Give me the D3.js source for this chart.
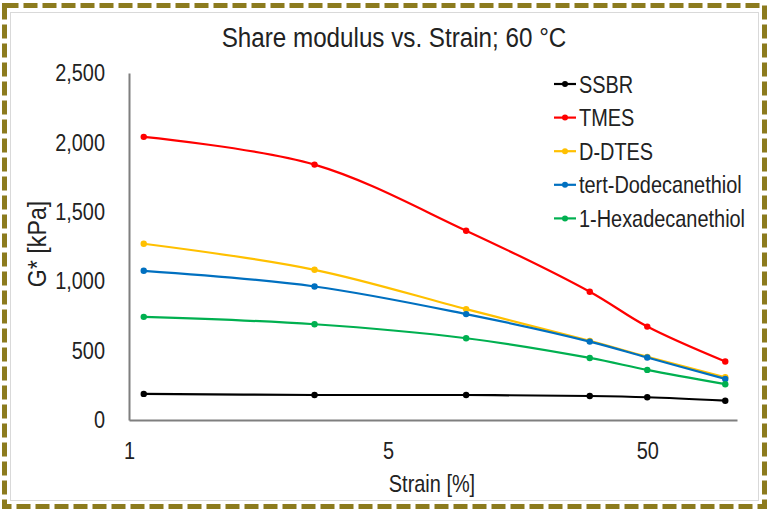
<!DOCTYPE html>
<html>
<head>
<meta charset="utf-8">
<script src="https://cdn.jsdelivr.net/npm/d3@7"></script>
<style>
  html, body { margin: 0; padding: 0; background: #fff; }
  text { font-family: "Liberation Sans", Arial, sans-serif; fill: #222; }
</style>
</head>
<body>
<svg id="chart" width="769" height="512"></svg>
<script>
// Strain sweep at 60 °C: complex shear modulus per compound
const strains = [0.57, 2.6, 10, 30, 50, 100];
const seriesNames = ["SSBR", "TMES", "D-DTES", "tert-Dodecanethiol", "1-Hexadecanethiol"];
const ssbr = [188, 180, 180, 173, 164, 139];
const tmes = [2040, 1840, 1364, 924, 673, 421];
const ddtes = [1270, 1082, 799, 570, 455, 308];
const tertDodecanethiol = [1075, 962, 763, 565, 450, 296];
const hexadecanethiol = [743, 690, 589, 447, 361, 258];
const seriesColors = ["#000000", "#ff0000", "#ffc000", "#0070c0", "#00b050"];
const xTickValues = [0.5, 5, 50];
const xTickLabels = ["1", "5", "50"];
const yTickValues = [0, 500, 1000, 1500, 2000, 2500];

const seriesValues = [ssbr, tmes, ddtes, tertDodecanethiol, hexadecanethiol];
const series = seriesNames.map((name, i) => ({
  name,
  color: seriesColors[i],
  points: strains.map((s, j) => ({ x: s, y: seriesValues[i][j] }))
}));

// narrow lettering: squeeze each text horizontally around its own anchor
const NARROW = 0.83;
function condense(sel, k = NARROW) {
  sel.each(function () {
    const t = d3.select(this);
    const ax = +t.attr("x") || 0;
    t.attr("transform", `translate(${ax},0) scale(${k},1) translate(${-ax},0)`);
  });
}

const svg = d3.select("#chart");

// outer dashed frame and inner chart-area border
svg.append("rect")
  .attr("x", 10.5).attr("y", 12.5).attr("width", 748).attr("height", 488)
  .attr("fill", "none").attr("stroke", "#d9d9d9").attr("stroke-width", 1);
svg.append("rect")
  .attr("x", 4.5).attr("y", 5.5).attr("width", 760).attr("height", 501)
  .attr("fill", "none").attr("stroke", "#8c7b1e").attr("stroke-width", 5)
  .attr("stroke-dasharray", "14,5");

const x = d3.scaleLog().domain([0.5, 111]).range([129, 737]);
const y = d3.scaleLinear().domain([0, 2500]).range([420, 73]);

// title
svg.append("text")
  .attr("x", 394).attr("y", 47)
  .attr("text-anchor", "middle")
  .style("font-size", "28px")
  .text("Share modulus vs. Strain; 60 °C")
  .call(condense, 0.865);

// axes
const xAxis = d3.axisBottom(x)
  .tickValues(xTickValues)
  .tickFormat((d, i) => xTickLabels[i])
  .tickSize(0).tickPadding(22);
const gx = svg.append("g").attr("transform", "translate(0,420)").call(xAxis);
gx.select(".domain").attr("stroke", "#7f7f7f").attr("stroke-width", 2);
gx.selectAll("text").style("font-size", "24px").attr("fill", "#222").call(condense);

const yAxis = d3.axisLeft(y)
  .tickValues(yTickValues)
  .tickFormat(d3.format(","))
  .tickSize(0).tickPadding(24);
const gy = svg.append("g").attr("transform", "translate(129,0)").call(yAxis);
gy.select(".domain").attr("stroke", "#7f7f7f").attr("stroke-width", 2);
gy.selectAll("text").style("font-size", "24px").attr("fill", "#222").call(condense);

// axis titles
svg.append("text")
  .attr("x", 432).attr("y", 492)
  .attr("text-anchor", "middle")
  .style("font-size", "24px")
  .text("Strain [%]")
  .call(condense);
svg.append("text")
  .attr("transform", "translate(46,244) rotate(-90) scale(0.93,1)")
  .attr("text-anchor", "middle")
  .style("font-size", "25px")
  .text("G* [kPa]");

// smoothed series lines with markers
const line = d3.line()
  .x(d => x(d.x)).y(d => y(d.y))
  .curve(d3.curveCatmullRom.alpha(0.5));

const gSeries = svg.append("g");
series.forEach(s => {
  const g = gSeries.append("g");
  g.append("path")
    .datum(s.points)
    .attr("d", line)
    .attr("fill", "none")
    .attr("stroke", s.color)
    .attr("stroke-width", 2.2);
  g.selectAll("circle")
    .data(s.points)
    .join("circle")
    .attr("cx", d => x(d.x)).attr("cy", d => y(d.y))
    .attr("r", 3.2)
    .attr("fill", s.color);
});

// legend
const legend = svg.append("g").attr("transform", "translate(554,84)");
series.forEach((s, i) => {
  const row = legend.append("g").attr("transform", `translate(0,${i * 33.6})`);
  row.append("line")
    .attr("x1", 0).attr("x2", 22).attr("y1", 0).attr("y2", 0)
    .attr("stroke", s.color).attr("stroke-width", 2.2);
  row.append("circle").attr("cx", 11).attr("cy", 0).attr("r", 3).attr("fill", s.color);
  row.append("text")
    .attr("x", 25).attr("y", 8.5)
    .style("font-size", "24px")
    .text(s.name)
    .call(condense);
});
</script>
</body>
</html>
